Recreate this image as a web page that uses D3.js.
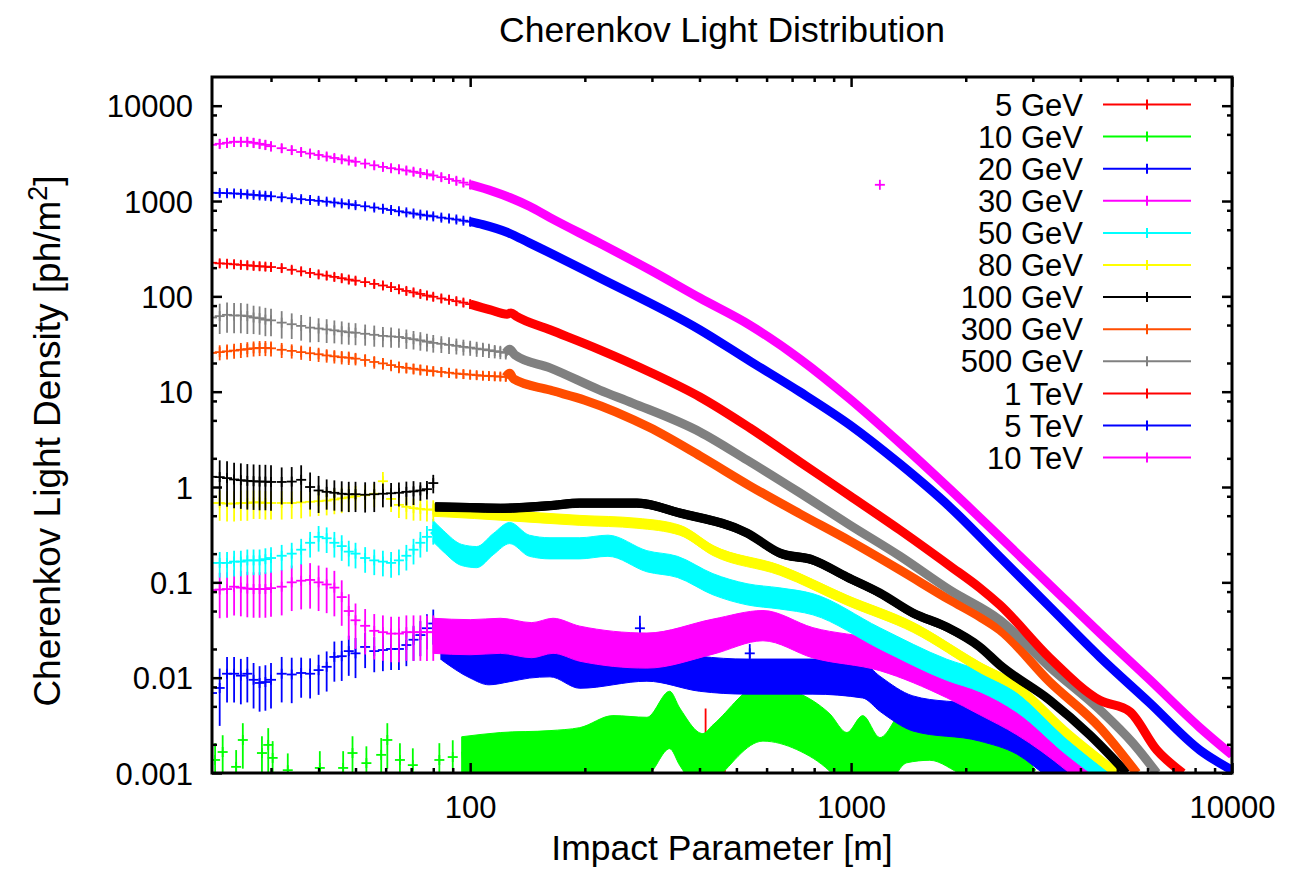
<!DOCTYPE html>
<html><head><meta charset="utf-8">
<script src="https://cdn.jsdelivr.net/npm/d3@7"></script>
<style>
body{margin:0;background:#fff}
text{font-family:"Liberation Sans",Arial,Helvetica,sans-serif;fill:#000}
</style>
</head><body>
<svg id="chart" width="1312" height="876"></svg>
<script>
// ---------------- DATA ----------------
const chartTitle = "Cherenkov Light Distribution";
const xTitle = "Impact Parameter [m]";
const seriesLabels = ["5 GeV","10 GeV","20 GeV","30 GeV","50 GeV","80 GeV","100 GeV","300 GeV","500 GeV","1 TeV","5 TeV","10 TeV"];
const seriesColors = ["#ff0000","#00ff00","#0000ff","#ff00ff","#00ffff","#ffff00","#000000","#ff4d00","#808080","#ff0000","#0000ff","#ff00ff"];

const xDomain = [21, 10000];
const yDomain = [0.001, 20000];
const xMajorTicks = [100, 1000, 10000];
const xMajorLabels = ["100", "1000", "10000"];
const xMinorTicks = [30,40,50,60,70,80,90,200,300,400,500,600,700,800,900,2000,3000,4000,5000,6000,7000,8000,9000];
const yMajorTicks = [0.001,0.01,0.1,1,10,100,1000,10000];
const yMajorLabels = ["0.001","0.01","0.1","1","10","100","1000","10000"];
const yMinorTicks = [0.002,0.005,0.008,0.02,0.05,0.08,0.2,0.5,0.8,2,5,8,20,50,80,200,500,800,2000,5000,8000];

// each point: [impact parameter (m), density (ph/m^2), relative error]
// 5 GeV
const coarse5GeV = [[405,0.0012,0.6],[415,0.0017,1.8],[425,0.0011,0.6],[440,0.0012,0.5],[455,0.00105,0.5],[2200,0.00098,0.5]];
const dense5GeV = [];
// 10 GeV
const coarse10GeV = [[21.4,0.00137,0.5],[22.4,0.00166,0.5],[24.3,0.00116,0.5],[25.3,0.00222,0.5],[28.4,0.00162,0.5],[29.5,0.00197,0.5],[30.3,0.00144,0.5],[33.2,0.00107,0.5],[40.3,0.00113,0.5],[46.4,0.00113,0.5],[49.1,0.00162,0.5],[53.4,0.00127,0.5],[58.4,0.00155,0.5],[60.6,0.00222,0.5],[65.4,0.00137,0.5],[70.7,0.00121,0.5],[83,0.00137,0.5],[90,0.00147,0.5]];
const dense10GeV = [[95,0.0015,0.6],[120,0.00166,0.6],[162,0.00174,0.6],[194,0.00187,0.6],[237,0.0025,0.6],[291,0.0024,0.6],[334,0.0045,0.6],[355,0.003,0.6],[408,0.00162,0.6],[434,0.002,0.6],[587,0.0054,0.6],[720,0.0044,0.6],[880,0.0026,0.6],[975,0.00166,0.6],[1073,0.0025,0.6],[1190,0.00147,0.6],[1400,0.0032,0.6],[1609,0.0034,0.6],[1965,0.0024,0.6],[2217,0.00206,0.6],[2724,0.00147,0.6],[3000,0.001,0.6]];
// 20 GeV
const coarse20GeV = [[21,0.0069,0.6],[22,0.0078,0.6],[23,0.011,0.5],[24,0.011,0.5],[25,0.0105,0.5],[26,0.011,0.5],[27,0.0095,0.5],[28,0.0088,0.5],[29,0.009,0.5],[30,0.0095,0.5],[32,0.011,0.5],[34,0.0108,0.5],[36,0.0112,0.45],[38,0.011,0.45],[40,0.012,0.45],[42,0.013,0.45],[44,0.0165,0.45],[46,0.0168,0.45],[48,0.019,0.45],[50,0.018,0.45],[53,0.021,0.4],[56,0.019,0.4],[59,0.0195,0.4],[62,0.02,0.4],[65,0.02,0.4],[68,0.022,0.4],[71,0.025,0.4],[74,0.028,0.4],[77,0.033,0.4],[80,0.037,0.4],[84,0.028,0.45]];
const dense20GeV = [[84,0.028,0.45],[100,0.018,0.45],[112,0.0153,0.45],[127,0.0165,0.45],[143,0.018,0.45],[162,0.017,0.4],[194,0.0129,0.4],[291,0.0153,0.4],[400,0.012,0.4],[533,0.0112,0.4],[794,0.0112,0.4],[1073,0.0102,0.4],[1190,0.0074,0.4],[1453,0.0046,0.4],[2178,0.0036,0.4],[2724,0.00263,0.4],[3324,0.00147,0.4],[3913,0.001,0.4]];
const extra20GeV = [[279,0.033,0.35],[542,0.018,0.25]];
// 30 GeV
const coarse30GeV = [[21,0.083,0.5],[22,0.084,0.5],[23,0.085,0.5],[24,0.09,0.5],[25,0.088,0.5],[26,0.086,0.5],[27,0.085,0.5],[28,0.085,0.5],[29,0.085,0.5],[30,0.087,0.5],[32,0.09,0.5],[34,0.1,0.5],[36,0.104,0.5],[38,0.106,0.5],[40,0.1,0.5],[42,0.095,0.5],[44,0.088,0.5],[46,0.07,0.5],[48,0.05,0.5],[50,0.04,0.5],[53,0.035,0.5],[56,0.031,0.5],[59,0.03,0.5],[62,0.029,0.5],[65,0.029,0.5],[68,0.03,0.5],[71,0.03,0.5],[74,0.03,0.5],[77,0.03,0.5],[80,0.03,0.5]];
const dense30GeV = [[80,0.03,0.4],[100,0.029,0.4],[120,0.03,0.4],[145,0.027,0.4],[165,0.03,0.4],[194,0.0248,0.4],[291,0.021,0.4],[434,0.0294,0.4],[587,0.0375,0.35],[794,0.0248,0.35],[1190,0.0182,0.35],[1783,0.00946,0.35],[2178,0.00627,0.35],[2724,0.00387,0.35],[3684,0.00162,0.35],[4234,0.001,0.35]];
const extra30GeV = [[1190,1480,0.03]];
// 50 GeV
const coarse50GeV = [[21,0.16,0.3],[22,0.16,0.3],[23,0.16,0.3],[24,0.165,0.3],[25,0.165,0.3],[26,0.17,0.3],[27,0.17,0.3],[28,0.17,0.3],[29,0.175,0.3],[30,0.18,0.3],[32,0.19,0.3],[34,0.2,0.3],[36,0.22,0.3],[38,0.26,0.3],[40,0.3,0.3],[42,0.29,0.3],[44,0.26,0.3],[46,0.24,0.3],[48,0.21,0.3],[50,0.2,0.3],[53,0.18,0.3],[56,0.17,0.3],[59,0.165,0.3],[62,0.16,0.3],[65,0.17,0.3],[68,0.19,0.3],[71,0.22,0.3],[74,0.26,0.3],[77,0.3,0.3],[80,0.355,0.3]];
const dense50GeV = [[80,0.355,0.25],[85,0.28,0.25],[95,0.2,0.25],[104,0.19,0.25],[115,0.26,0.25],[127,0.34,0.25],[143,0.25,0.25],[162,0.235,0.25],[194,0.235,0.25],[230,0.25,0.25],[291,0.172,0.25],[350,0.15,0.25],[434,0.0986,0.25],[533,0.0774,0.25],[650,0.07,0.25],[794,0.0608,0.25],[1190,0.0267,0.25],[1783,0.0125,0.25],[2178,0.0095,0.25],[2724,0.0058,0.25],[3684,0.00206,0.25],[4692,0.001,0.25]];
// 80 GeV
const coarse80GeV = [[21,0.68,0.35],[22,0.68,0.35],[23,0.67,0.35],[24,0.67,0.35],[25,0.68,0.35],[26,0.68,0.35],[27,0.69,0.33],[28,0.69,0.33],[29,0.68,0.33],[30,0.68,0.33],[32,0.68,0.33],[34,0.68,0.32],[36,0.69,0.32],[38,0.7,0.3],[40,0.71,0.3],[42,0.72,0.3],[44,0.74,0.3],[46,0.76,0.3],[48,0.78,0.3],[50,0.8,0.28],[53,0.82,0.28],[56,0.85,0.28],[59,1.15,0.25],[62,0.75,0.27],[65,0.65,0.27],[68,0.62,0.26],[71,0.6,0.26],[74,0.59,0.25],[77,0.58,0.25],[80,0.58,0.25]];
const dense80GeV = [[80,0.58,0.15],[88,0.55,0.12],[120,0.51,0.12],[194,0.45,0.12],[274,0.42,0.12],[355,0.355,0.12],[434,0.217,0.12],[650,0.135,0.12],[975,0.0654,0.12],[1453,0.034,0.12],[2178,0.0129,0.12],[2724,0.008,0.12],[3684,0.00263,0.12],[4984,0.001,0.12]];
// 100 GeV
const coarse100GeV = [[21,1.28,0.5],[22,1.27,0.5],[23,1.24,0.5],[24,1.2,0.5],[25,1.18,0.5],[26,1.16,0.5],[27,1.15,0.5],[28,1.14,0.5],[29,1.14,0.5],[30,1.13,0.5],[32,1.13,0.42],[34,1.14,0.42],[36,1.19,0.42],[38,1.0,0.42],[40,0.92,0.42],[42,0.89,0.35],[44,0.87,0.35],[46,0.85,0.35],[48,0.84,0.35],[50,0.84,0.35],[53,0.83,0.35],[56,0.84,0.35],[59,0.85,0.28],[62,0.86,0.28],[65,0.87,0.28],[68,0.89,0.28],[71,0.9,0.28],[74,0.92,0.22],[77,0.95,0.22],[80,1.1,0.22]];
const dense100GeV = [[81,0.62,0.1],[100,0.61,0.1],[120,0.6,0.1],[162,0.64,0.1],[194,0.68,0.1],[274,0.68,0.1],[355,0.535,0.1],[533,0.33,0.1],[650,0.203,0.1],[794,0.172,0.1],[975,0.114,0.1],[1190,0.0774,0.1],[1453,0.0477,0.1],[1783,0.034,0.1],[2178,0.021,0.1],[2457,0.0136,0.1],[3324,0.0058,0.1],[4234,0.0025,0.1],[5295,0.001,0.1]];
// 300 GeV
const coarse300GeV = [[21,25.5,0.18],[22,26,0.18],[23,26.5,0.18],[24,27,0.18],[25,27.5,0.18],[26,28,0.18],[27,28.5,0.18],[28,28.8,0.18],[29,28.8,0.18],[30,28.5,0.18],[32,27.5,0.18],[34,26.8,0.17],[36,26,0.17],[38,25.3,0.17],[40,24.7,0.17],[42,24,0.16],[44,23.5,0.16],[46,23,0.16],[48,22.7,0.16],[50,22.2,0.15],[53,21.5,0.15],[56,20.5,0.15],[59,19.8,0.14],[62,19,0.14],[65,18.2,0.14],[68,17.8,0.13],[71,17.4,0.13],[74,17,0.13],[77,16.7,0.12],[80,16.4,0.12],[84,16.1,0.12],[88,15.8,0.12],[92,15.5,0.11],[96,15.3,0.11],[100,15.1,0.11],[104,14.9,0.1],[108,14.7,0.1],[112,14.6,0.1],[116,14.5,0.1],[120,14.4,0.1],[124,14.3,0.1]];
const dense300GeV = [[124,14.3,0.08],[127,15.6,0.08],[130,13.6,0.08],[162,10.4,0.08],[200,8.15,0.08],[296,4.2,0.08],[401,2.12,0.08],[542,1.03,0.08],[734,0.523,0.08],[992,0.272,0.08],[1342,0.135,0.08],[1816,0.0654,0.08],[2178,0.0434,0.08],[2457,0.0317,0.08],[3324,0.009,0.08],[4497,0.003,0.08],[5624,0.001,0.08]];
// 500 GeV
const coarse500GeV = [[21,60,0.35],[22,62,0.35],[23,64,0.35],[24,63,0.35],[25,63,0.35],[26,62,0.35],[27,60,0.33],[28,59,0.33],[29,57,0.33],[30,56,0.32],[32,53,0.32],[34,51,0.3],[36,49,0.3],[38,47,0.3],[40,46,0.28],[42,45,0.28],[44,44,0.27],[46,43,0.27],[48,42,0.26],[50,41.5,0.26],[53,40.5,0.25],[56,39.5,0.25],[59,38.5,0.24],[62,38,0.24],[65,37.5,0.23],[68,36.5,0.23],[71,35.5,0.22],[74,34.5,0.22],[77,33.5,0.21],[80,32.5,0.21],[84,31.8,0.2],[88,31,0.2],[92,30.3,0.19],[96,29.5,0.19],[100,29,0.18],[104,28.3,0.18],[108,27.8,0.17],[112,27.2,0.17],[116,26.6,0.16],[120,26.1,0.16],[124,25.6,0.15]];
const dense500GeV = [[124,25.6,0.1],[127,27.8,0.1],[131,24.3,0.08],[162,17.8,0.08],[219,10.4,0.08],[267,7.6,0.08],[401,3.78,0.08],[533,1.92,0.08],[734,0.867,0.08],[992,0.4,0.08],[1342,0.189,0.08],[1816,0.083,0.08],[2457,0.0403,0.08],[3324,0.0129,0.08],[4497,0.0046,0.08],[5490,0.00206,0.08],[6346,0.001,0.08]];
// 1 TeV
const coarse1TeV = [[21,225,0.1],[22,222,0.1],[23,220,0.1],[24,217,0.1],[25,214,0.1],[26,212,0.1],[27,209,0.1],[28,207,0.1],[29,205,0.1],[30,203,0.1],[32,198,0.1],[34,190,0.1],[36,183,0.1],[38,176,0.1],[40,170,0.1],[42,165,0.1],[44,160,0.1],[46,155,0.1],[48,150,0.1],[50,146,0.1],[53,141,0.1],[56,135,0.1],[59,130,0.1],[62,125,0.1],[65,119,0.1],[68,114,0.1],[71,110,0.1],[74,106,0.1],[77,102,0.1],[80,99,0.1],[84,95,0.1],[88,92,0.1],[92,89,0.1],[96,86,0.1],[100,83,0.1]];
const dense1TeV = [[100,83,0.08],[113,72,0.08],[125,65,0.08],[128,67,0.08],[132,62,0.08],[162,44.6,0.08],[219,27.5,0.08],[296,16.1,0.08],[401,8.8,0.08],[542,4.17,0.08],[734,1.83,0.08],[992,0.81,0.08],[1342,0.355,0.08],[1816,0.149,0.08],[2178,0.0873,0.08],[2457,0.058,0.08],[3324,0.0161,0.08],[4497,0.0058,0.08],[5390,0.0044,0.08],[6346,0.00174,0.08],[7429,0.001,0.08]];
// 5 TeV
const coarse5TeV = [[21,1220,0.08],[22,1215,0.08],[23,1210,0.08],[24,1200,0.08],[25,1190,0.08],[26,1175,0.08],[27,1160,0.08],[28,1145,0.08],[29,1135,0.08],[30,1120,0.08],[32,1095,0.08],[34,1070,0.08],[36,1045,0.08],[38,1025,0.08],[40,1005,0.08],[42,985,0.08],[44,965,0.08],[46,945,0.08],[48,925,0.08],[50,905,0.08],[53,880,0.08],[56,855,0.08],[59,830,0.08],[62,805,0.08],[65,780,0.08],[68,760,0.08],[71,740,0.08],[74,720,0.08],[77,705,0.08],[80,690,0.08],[84,670,0.08],[88,655,0.08],[92,640,0.08],[96,622,0.08],[100,607,0.08]];
const dense5TeV = [[100,607,0.06],[108,565,0.06],[126,464,0.06],[143,364,0.06],[219,156,0.06],[401,44.6,0.06],[542,21,0.06],[734,9.95,0.06],[992,4.49,0.06],[1342,1.75,0.06],[1816,0.618,0.06],[2457,0.185,0.06],[3324,0.0552,0.06],[4497,0.0165,0.06],[6083,0.00543,0.06],[8232,0.00174,0.06],[10000,0.00107,0.06]];
// 10 TeV
const coarse10TeV = [[21,3890,0.12],[22,3985,0.12],[23,4083,0.12],[24,4183,0.12],[25,4183,0.12],[26,4183,0.12],[27,4083,0.12],[28,3985,0.12],[29,3890,0.12],[30,3760,0.12],[32,3580,0.11],[34,3420,0.11],[36,3270,0.11],[38,3150,0.11],[40,3040,0.1],[42,2930,0.1],[44,2830,0.1],[46,2740,0.1],[48,2660,0.1],[50,2580,0.1],[53,2470,0.1],[56,2370,0.1],[59,2280,0.1],[62,2210,0.1],[65,2150,0.1],[68,2090,0.1],[71,2030,0.1],[74,1970,0.1],[77,1910,0.1],[80,1850,0.1],[84,1780,0.1],[88,1700,0.1],[92,1630,0.1],[96,1560,0.1],[100,1490,0.1]];
const dense10TeV = [[100,1490,0.06],[115,1260,0.06],[127,1090,0.06],[143,880,0.06],[162,670,0.06],[219,360,0.06],[296,190,0.06],[401,96,0.06],[542,50,0.06],[734,22,0.06],[992,8.4,0.06],[1342,2.9,0.06],[1816,0.95,0.06],[2457,0.3,0.06],[3324,0.094,0.06],[4497,0.0294,0.06],[6083,0.0095,0.06],[8232,0.003,0.06],[10000,0.00155,0.06]];

const coarseSets = [coarse5GeV,coarse10GeV,coarse20GeV,coarse30GeV,coarse50GeV,coarse80GeV,coarse100GeV,coarse300GeV,coarse500GeV,coarse1TeV,coarse5TeV,coarse10TeV];
const denseSets = [dense5GeV,dense10GeV,dense20GeV,dense30GeV,dense50GeV,dense80GeV,dense100GeV,dense300GeV,dense500GeV,dense1TeV,dense5TeV,dense10TeV];
const extraSets = [[],[],extra20GeV,extra30GeV,[],[],[],[],[],[],[],[]];

// ---------------- DRAWING ----------------
const svg = d3.select("#chart");
const L = 212, R = 1232, T = 77, B = 773;
const x = d3.scaleLog().domain(xDomain).range([L, R]);
const y = d3.scaleLog().domain(yDomain).range([B, T]);
const lo = d => Math.max(d[1] * (1 - d[2]), 1e-6);
const hi = d => d[1] * (1 + d[2]);

svg.append("rect").attr("width",1312).attr("height",876).attr("fill","#fff");
svg.append("defs").append("clipPath").attr("id","plotclip")
  .append("rect").attr("x",L).attr("y",T).attr("width",R-L).attr("height",B-T);

const plot = svg.append("g").attr("clip-path","url(#plotclip)");

seriesLabels.forEach((lab, i) => {
  const col = seriesColors[i];
  const g = plot.append("g").attr("class","series");
  const dense = denseSets[i], coarse = coarseSets[i], extra = extraSets[i];
  if (dense.length) {
    g.append("path").datum(dense)
      .attr("d", d3.area().curve(d3.curveMonotoneX).x(d => x(d[0])).y0(d => y(lo(d))).y1(d => y(hi(d))))
      .attr("fill", col).attr("stroke", col).attr("stroke-width", 1);
    g.append("path").datum(dense)
      .attr("d", d3.line().curve(d3.curveMonotoneX).x(d => x(d[0])).y(d => y(d[1])))
      .attr("fill","none").attr("stroke", col).attr("stroke-width", 9)
      .attr("stroke-linejoin","round");
  }
  const pts = coarse.concat(extra);
  g.selectAll("line.eb").data(pts).join("line").attr("class","eb")
    .attr("x1", d => x(d[0])).attr("x2", d => x(d[0]))
    .attr("y1", d => y(lo(d))).attr("y2", d => y(hi(d)))
    .attr("stroke", col).attr("stroke-width", 1.8);
  g.selectAll("line.arm").data(pts).join("line").attr("class","arm")
    .attr("x1", d => x(d[0]) - 5).attr("x2", d => x(d[0]) + 5)
    .attr("y1", d => y(d[1])).attr("y2", d => y(d[1]))
    .attr("stroke", col).attr("stroke-width", 1.8);
  g.selectAll("line.varm").data(pts).join("line").attr("class","varm")
    .attr("x1", d => x(d[0])).attr("x2", d => x(d[0]))
    .attr("y1", d => y(d[1]) - 5).attr("y2", d => y(d[1]) + 5)
    .attr("stroke", col).attr("stroke-width", 1.8);
});

// axes (gnuplot-style inward, mirrored ticks)
function styleAxis(sel) {
  sel.select(".domain").remove();
  sel.selectAll("line").attr("stroke","#000").attr("stroke-width",2.5);
  sel.selectAll("text").style("font-size","31px").attr("fill","#000");
}
const axB = svg.append("g").attr("transform",`translate(0,${B})`)
  .call(d3.axisBottom(x).tickValues(xMajorTicks).tickSize(-10).tickFormat((d,i) => xMajorLabels[i]));
styleAxis(axB);
axB.selectAll("text").attr("y", 45).attr("dy", null);
svg.append("g").attr("transform",`translate(0,${B})`)
  .call(d3.axisBottom(x).tickValues(xMinorTicks).tickSize(-5).tickFormat(""))
  .call(styleAxis);
svg.append("g").attr("transform",`translate(0,${T})`)
  .call(d3.axisTop(x).tickValues(xMajorTicks).tickSize(-10).tickFormat(""))
  .call(styleAxis);
svg.append("g").attr("transform",`translate(0,${T})`)
  .call(d3.axisTop(x).tickValues(xMinorTicks).tickSize(-5).tickFormat(""))
  .call(styleAxis);

const axL = svg.append("g").attr("transform",`translate(${L},0)`)
  .call(d3.axisLeft(y).tickValues(yMajorTicks).tickSize(-10).tickFormat((d,i) => yMajorLabels[i]));
styleAxis(axL);
axL.selectAll("text").attr("x", -19).attr("dy", "0.36em");
svg.append("g").attr("transform",`translate(${L},0)`)
  .call(d3.axisLeft(y).tickValues(yMinorTicks).tickSize(-5).tickFormat(""))
  .call(styleAxis);
svg.append("g").attr("transform",`translate(${R},0)`)
  .call(d3.axisRight(y).tickValues(yMajorTicks).tickSize(-10).tickFormat(""))
  .call(styleAxis);
svg.append("g").attr("transform",`translate(${R},0)`)
  .call(d3.axisRight(y).tickValues(yMinorTicks).tickSize(-5).tickFormat(""))
  .call(styleAxis);

// border
svg.append("rect").attr("x",L).attr("y",T).attr("width",R-L).attr("height",B-T)
  .attr("fill","none").attr("stroke","#000").attr("stroke-width",3);

// legend
const legend = svg.append("g");
seriesLabels.forEach((lab, i) => {
  const cy = 104.5 + i * 32.1;
  legend.append("text").attr("x", 1083).attr("y", cy).attr("dy","0.36em")
    .attr("text-anchor","end").style("font-size","31px").text(lab);
  legend.append("line").attr("x1",1103).attr("x2",1191).attr("y1",cy).attr("y2",cy)
    .attr("stroke", seriesColors[i]).attr("stroke-width",2);
  legend.append("line").attr("x1",1147).attr("x2",1147).attr("y1",cy-5).attr("y2",cy+5)
    .attr("stroke", seriesColors[i]).attr("stroke-width",2);
});

// titles
svg.append("text").attr("x",(L+R)/2).attr("y",42).attr("text-anchor","middle")
  .style("font-size","35.5px").text(chartTitle);
svg.append("text").attr("x",(L+R)/2).attr("y",860).attr("text-anchor","middle")
  .style("font-size","35.5px").text(xTitle);
const yl = svg.append("text").attr("transform","translate(60,441) rotate(-90)")
  .attr("text-anchor","middle").style("font-size","37px");
yl.append("tspan").text("Cherenkov Light Density [ph/m");
yl.append("tspan").attr("dy","-13").style("font-size","27px").text("2");
yl.append("tspan").attr("dy","13").text("]");
</script>
</body></html>
